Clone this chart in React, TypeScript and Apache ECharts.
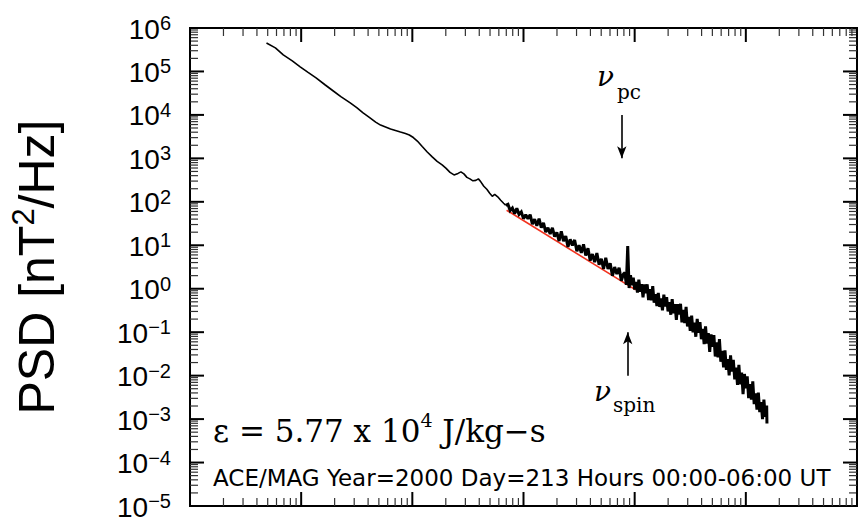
import React, { useEffect, useRef } from "react";
import * as echarts from "echarts";

// Values, stored as [log10(frequency / Hz), log10(PSD / nT^2 Hz^-1)]
const lowFreqLog: [number, number][] = [
  [-4.312, 5.656], [-4.232, 5.542], [-4.161, 5.381], [-4.080, 5.244], [-4.009, 5.106],
  [-3.938, 4.980], [-3.866, 4.854], [-3.786, 4.694], [-3.714, 4.556], [-3.643, 4.419],
  [-3.562, 4.281], [-3.500, 4.167], [-3.446, 4.052], [-3.384, 3.938], [-3.330, 3.835],
  [-3.286, 3.766], [-3.241, 3.720], [-3.196, 3.674], [-3.152, 3.640], [-3.107, 3.605],
  [-3.062, 3.571], [-3.027, 3.537], [-2.991, 3.479], [-2.955, 3.399], [-2.911, 3.273],
  [-2.866, 3.147], [-2.821, 3.033], [-2.777, 2.929], [-2.732, 2.849], [-2.696, 2.769],
  [-2.661, 2.677], [-2.625, 2.620], [-2.589, 2.654], [-2.563, 2.689], [-2.536, 2.643],
  [-2.509, 2.563], [-2.482, 2.528], [-2.455, 2.483], [-2.429, 2.494], [-2.406, 2.528],
  [-2.384, 2.460], [-2.357, 2.357], [-2.330, 2.288], [-2.304, 2.196], [-2.281, 2.127],
  [-2.259, 2.173], [-2.232, 2.116], [-2.205, 2.036], [-2.179, 1.967], [-2.161, 1.921],
];

const inertialLog: [number, number][] = [
  [-2.14, 1.945], [-2.12, 1.798], [-2.10, 1.855], [-2.08, 1.729], [-2.06, 1.849],
  [-2.04, 1.710], [-2.02, 1.766], [-2.00, 1.613], [-1.98, 1.703], [-1.96, 1.612],
  [-1.94, 1.705], [-1.92, 1.487], [-1.90, 1.599], [-1.88, 1.450], [-1.86, 1.612],
  [-1.84, 1.404], [-1.82, 1.514], [-1.80, 1.303], [-1.78, 1.402], [-1.76, 1.261],
  [-1.74, 1.401], [-1.72, 1.200], [-1.70, 1.297], [-1.68, 1.098], [-1.66, 1.319],
  [-1.64, 1.097], [-1.62, 1.210], [-1.60, 0.963], [-1.58, 1.136], [-1.56, 0.997],
  [-1.54, 1.123], [-1.52, 0.864], [-1.50, 1.001], [-1.48, 0.826], [-1.46, 1.023],
  [-1.44, 0.765], [-1.42, 0.930], [-1.40, 0.647], [-1.38, 0.798], [-1.36, 0.613],
  [-1.34, 0.821], [-1.32, 0.552], [-1.30, 0.687], [-1.28, 0.455], [-1.26, 0.713],
  [-1.24, 0.453], [-1.22, 0.585], [-1.20, 0.297], [-1.18, 0.499], [-1.16, 0.337],
  [-1.14, 0.483], [-1.12, 0.181], [-1.10, 0.341],
];

const highFreqLog: [number, number][] = [
  [-1.0875, 0.368], [-1.075, 0.091], [-1.0625, 0.98], [-1.05, 0.017], [-1.0375, 0.312],
  [-1.025, 0.082], [-1.0125, 0.257], [-1.0, -0.018], [-0.9875, 0.157], [-0.975, -0.088],
  [-0.9625, 0.207], [-0.95, -0.068], [-0.9375, 0.107], [-0.925, -0.198], [-0.9125, 0.097],
  [-0.9, -0.103], [-0.8875, 0.102], [-0.875, -0.260], [-0.8625, -0.010], [-0.85, -0.264],
  [-0.8375, 0.058], [-0.825, -0.322], [-0.8125, -0.126], [-0.8, -0.398], [-0.7875, -0.094],
  [-0.775, -0.420], [-0.7625, -0.224], [-0.75, -0.496], [-0.7375, -0.138], [-0.725, -0.410],
  [-0.7125, -0.196], [-0.7, -0.522], [-0.6875, -0.308], [-0.675, -0.598], [-0.6625, -0.240],
  [-0.65, -0.566], [-0.6375, -0.352], [-0.625, -0.714], [-0.6125, -0.356], [-0.6, -0.592],
  [-0.5875, -0.347], [-0.575, -0.775], [-0.5625, -0.489], [-0.55, -0.791], [-0.5375, -0.420],
  [-0.525, -0.869], [-0.5125, -0.646], [-0.5, -0.969], [-0.4875, -0.619], [-0.475, -1.005],
  [-0.4625, -0.782], [-0.45, -1.105], [-0.4375, -0.692], [-0.425, -1.015], [-0.4125, -0.771],
  [-0.4, -1.162], [-0.3875, -0.924], [-0.375, -1.274], [-0.3625, -0.868], [-0.35, -1.260],
  [-0.3375, -1.022], [-0.325, -1.456], [-0.3125, -1.050], [-0.3, -1.337], [-0.2875, -1.069],
  [-0.275, -1.560], [-0.2625, -1.235], [-0.25, -1.582], [-0.2375, -1.161], [-0.225, -1.679],
  [-0.2125, -1.431], [-0.2, -1.808], [-0.1875, -1.417], [-0.175, -1.865], [-0.1625, -1.618],
  [-0.15, -1.995], [-0.1375, -1.531], [-0.125, -1.908], [-0.1125, -1.637], [-0.1, -2.085],
  [-0.0875, -1.814], [-0.075, -2.214], [-0.0625, -1.751], [-0.05, -2.200], [-0.0375, -1.928],
  [-0.025, -2.425], [-0.0125, -1.962], [0.0, -2.290], [0.0125, -2.019], [0.025, -2.516],
  [0.0375, -2.196], [0.05, -2.549], [0.0625, -2.133], [0.075, -2.654], [0.0875, -2.407],
  [0.1, -2.783], [0.1125, -2.392], [0.125, -2.840], [0.1375, -2.608], [0.15, -3.001],
  [0.1625, -2.553], [0.175, -2.945], [0.1875, -2.690], [0.19, -3.10],
];

// power-law fit (frequency Hz, PSD nT^2/Hz)
const fitLine: [number, number][] = [
  [0.00705, 64.1],
  [0.102, 0.94],
];

// annotation arrows: frequency, start PSD, end PSD (arrow head at end)
const pcArrow = { freq: 0.0766, from: 1e4, to: 1e3 };
const spinArrow = { freq: 0.0866, from: 1e-2, to: 1e-1 };

const yExponents = [-5, -4, -3, -2, -1, 0, 1, 2, 3, 4, 5, 6];
const xExponents = [-5, -4, -3, -2, -1, 0, 1];
const minorMultipliers = [2, 3, 4, 5, 6, 7, 8, 9];

const epsilonText = { main: "ε = 5.77 x 10", exp: "4", unit: " J/kg−s" };
const sourceText = "ACE/MAG Year=2000 Day=213 Hours 00:00-06:00 UT";

type Tick = { value: number; major: boolean };

function tickList(exps: number[]): Tick[] {
  const out: Tick[] = [];
  exps.forEach((e, i) => {
    out.push({ value: Math.pow(10, e), major: true });
    if (i < exps.length - 1) {
      minorMultipliers.forEach((m) => out.push({ value: m * Math.pow(10, e), major: false }));
    }
  });
  return out;
}

const supMinus = (n: number) => (n < 0 ? "−" + Math.abs(n) : String(n));
const toLinear = (arr: [number, number][]) => arr.map(([lf, lp]) => [Math.pow(10, lf), Math.pow(10, lp)]);

export default function App() {
  const ref = useRef<HTMLDivElement>(null);

  useEffect(() => {
    if (!ref.current) return;
    const chart = echarts.init(ref.current, undefined, { renderer: "svg" });

    const smoothData = toLinear(lowFreqLog);
    const noisyData = toLinear([lowFreqLog[lowFreqLog.length - 1], ...inertialLog, ...highFreqLog]);

    const yTickSpecs = tickList(yExponents);
    const xTickSpecs = tickList(xExponents);

    const tickStyle = (major: boolean) => ({
      stroke: major ? "#000" : "#333",
      lineWidth: major ? 2 : 1.2,
    });

    const option: any = {
      animation: false,
      backgroundColor: "#fff",
      grid: {
        left: 186,
        top: 28,
        width: 671,
        height: 480,
        show: true,
        borderColor: "#000",
        borderWidth: 2,
        backgroundColor: "transparent",
      },
      xAxis: {
        type: "log",
        logBase: 10,
        min: 1e-5,
        max: 10,
        axisLine: { show: false },
        axisTick: { show: false },
        axisLabel: { show: false },
        splitLine: { show: false },
      },
      yAxis: {
        type: "log",
        logBase: 10,
        min: 1e-5,
        max: 1e6,
        splitNumber: 11,
        axisLine: { show: false },
        axisTick: { show: false },
        splitLine: { show: false },
        name: "{a|PSD [nT}{s|2}{a|/Hz]}",
        nameLocation: "middle",
        nameRotate: 90,
        nameGap: 128,
        nameTextStyle: {
          color: "#000",
          rich: {
            a: { fontFamily: "Liberation Sans", fontSize: 50, lineHeight: 54, verticalAlign: "bottom", color: "#000" },
            s: { fontFamily: "Liberation Sans", fontSize: 31, lineHeight: 31, verticalAlign: "top", color: "#000" },
          },
        },
        axisLabel: {
          margin: 19,
          customValues: yExponents.map((e) => Math.pow(10, e)),
          formatter: (v: number) => {
            const e = Math.round(Math.log10(v));
            return `{b|10}{s|${supMinus(e)}}`;
          },
          rich: {
            b: {
              fontFamily: "Liberation Sans",
              fontSize: 28,
              lineHeight: 30,
              color: "#000",
              verticalAlign: "bottom",
            },
            s: {
              fontFamily: "Liberation Sans",
              fontSize: 20,
              lineHeight: 18,
              color: "#000",
              verticalAlign: "top",
            },
          },
        },
      },
      series: [
        {
          name: "fit",
          type: "line",
          data: fitLine,
          symbol: "none",
          z: 2,
          lineStyle: { color: "#f2321e", width: 1.6 },
          silent: true,
        },
        {
          name: "PSD low frequency",
          type: "line",
          data: smoothData,
          symbol: "none",
          z: 3,
          lineStyle: { color: "#000", width: 1.6 },
          silent: true,
        },
        {
          name: "PSD",
          type: "line",
          data: noisyData,
          symbol: "none",
          z: 3,
          lineStyle: { color: "#000", width: 3, join: "miter", miterLimit: 2 },
          silent: true,
          markLine: {
            silent: true,
            symbol: ["none", "arrow"],
            symbolSize: [7, 12],
            label: { show: false },
            lineStyle: { color: "#000", width: 1.6, type: "solid" },
            emphasis: { disabled: true },
            data: [
              [{ coord: [pcArrow.freq, pcArrow.from] }, { coord: [pcArrow.freq, pcArrow.to] }],
              [{ coord: [spinArrow.freq, spinArrow.from] }, { coord: [spinArrow.freq, spinArrow.to] }],
            ],
          },
        },
        {
          name: "frameTicks",
          type: "custom",
          silent: true,
          z: 4,
          clip: false,
          data: [[1, 1]],
          renderItem: (params: any, api: any) => {
            const cs = params.coordSys;
            const x0 = cs.x;
            const x1 = cs.x + cs.width;
            const y0 = cs.y;
            const y1 = cs.y + cs.height;
            const children: any[] = [];
            yTickSpecs.forEach((t) => {
              const y = api.coord([1, t.value])[1];
              const len = t.major ? 14 : 8;
              children.push({ type: "line", shape: { x1: x0, y1: y, x2: x0 + len, y2: y }, style: tickStyle(t.major) });
              children.push({ type: "line", shape: { x1: x1, y1: y, x2: x1 - len, y2: y }, style: tickStyle(t.major) });
            });
            xTickSpecs.forEach((t) => {
              const x = api.coord([t.value, 1])[0];
              const len = t.major ? 14 : 8;
              children.push({ type: "line", shape: { x1: x, y1: y0, x2: x, y2: y0 + len }, style: tickStyle(t.major) });
              children.push({ type: "line", shape: { x1: x, y1: y1, x2: x, y2: y1 - len }, style: tickStyle(t.major) });
            });
            return { type: "group", children };
          },
        },
      ],
      graphic: [
        {
          type: "text",
          left: 213,
          top: 410,
          silent: true,
          style: {
            text: `{t|${epsilonText.main}}{e|${epsilonText.exp}}{t|${epsilonText.unit}}`,
            fill: "#000",
            rich: {
              t: { fontFamily: "DejaVu Serif", fontSize: 31, lineHeight: 36, verticalAlign: "bottom", fill: "#000" },
              e: { fontFamily: "DejaVu Serif", fontSize: 19, lineHeight: 19, verticalAlign: "top", fill: "#000" },
            },
          },
        },
        {
          type: "text",
          left: 213,
          top: 466,
          silent: true,
          style: {
            text: sourceText,
            fill: "#000",
            fontFamily: "DejaVu Sans",
            fontSize: 23,
          },
        },
        {
          type: "text",
          left: 597,
          top: 62,
          silent: true,
          style: { text: "ν", fill: "#000", fontFamily: "DejaVu Serif", fontStyle: "italic", fontSize: 28 },
        },
        {
          type: "text",
          left: 617,
          top: 82,
          silent: true,
          style: { text: "pc", fill: "#000", fontFamily: "DejaVu Serif", fontSize: 20 },
        },
        {
          type: "text",
          left: 594,
          top: 377,
          silent: true,
          style: { text: "ν", fill: "#000", fontFamily: "DejaVu Serif", fontStyle: "italic", fontSize: 28 },
        },
        {
          type: "text",
          left: 613,
          top: 395,
          silent: true,
          style: { text: "spin", fill: "#000", fontFamily: "DejaVu Serif", fontSize: 20 },
        },
      ],
    };

    chart.setOption(option);
    return () => chart.dispose();
  }, []);

  return (
    <div
      ref={ref}
      style={{ position: "fixed", left: 0, top: 0, width: 860, height: 521, background: "#fff" }}
    />
  );
}
